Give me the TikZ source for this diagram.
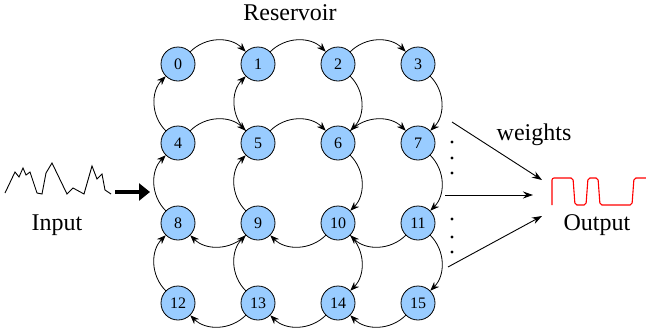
\documentclass[tikz,border=0pt]{standalone}
\usepackage{fontspec}
\setmainfont{Liberation Serif}
\usetikzlibrary{arrows.meta}
\definecolor{cellblue}{RGB}{153,204,255}
\definecolor{wavered}{RGB}{255,0,0}
\tikzset{
	neuron/.style={circle, draw, fill=cellblue, line width=0.8pt, minimum size=34pt, inner sep=0pt, font=\fontsize{16}{16}\selectfont},
	link/.style={-{Stealth[length=9pt,width=7pt]}, line width=0.8pt, bend left=45},
	readout/.style={-{Stealth[length=10pt,width=7pt]}, line width=0.9pt},
	txt/.style={anchor=base, font=\fontsize{24}{24}\selectfont}
}
\begin{document}
\begin{tikzpicture}[x=1pt,y=-1pt]
				\useasboundingbox (0,0) rectangle (646,330);
				\node[neuron] (n0) at (178,64) {0};
				\node[neuron] (n1) at (258,64) {1};
				\node[neuron] (n2) at (338,64) {2};
				\node[neuron] (n3) at (418,64) {3};
				\node[neuron] (n4) at (178,143) {4};
				\node[neuron] (n5) at (258,143) {5};
				\node[neuron] (n6) at (338,143) {6};
				\node[neuron] (n7) at (418,143) {7};
				\node[neuron] (n8) at (178,223) {8};
				\node[neuron] (n9) at (258,223) {9};
				\node[neuron] (n10) at (338,223) {10};
				\node[neuron] (n11) at (418,223) {11};
				\node[neuron] (n12) at (178,303) {12};
				\node[neuron] (n13) at (258,303) {13};
				\node[neuron] (n14) at (338,303) {14};
				\node[neuron] (n15) at (418,303) {15};
				\draw[link] (n0) to (n1);
				\draw[link] (n1) to (n2);
				\draw[link] (n2) to (n3);
				\draw[link] (n4) to (n5);
				\draw[link] (n5) to (n6);
				\draw[link] (n6) to (n7);
				\draw[link] (n11) to (n10);
				\draw[link] (n10) to (n9);
				\draw[link] (n9) to (n8);
				\draw[link] (n15) to (n14);
				\draw[link] (n14) to (n13);
				\draw[link] (n13) to (n12);
				\draw[link] (n4) to (n0);
				\draw[link] (n8) to (n4);
				\draw[link] (n12) to (n8);
				\draw[link] (n5) to (n1);
				\draw[link] (n9) to (n5);
				\draw[link] (n13) to (n9);
				\draw[link] (n2) to (n6);
				\draw[link] (n6) to (n10);
				\draw[link] (n10) to (n14);
				\draw[link] (n3) to (n7);
				\draw[link] (n7) to (n11);
				\draw[link] (n11) to (n15);
				\node[txt] (reservoir) at (290,20) {Reservoir};
				\node[txt] (input) at (57,230) {Input};
				\node[txt] (output) at (597,230) {Output};
				\node[txt] (weights) at (534,140) {weights};
				\draw[line width=0.9pt, line join=miter] (5,193) -- (15,172) -- (19,177) -- (23,168) -- (26,175) -- (30,172) -- (37,193) -- (42,194) -- (46,173) -- (52,163) -- (67,194) -- (73,188) -- (84,194) -- (92,166) -- (97,179) -- (102,174) -- (105,190) -- (111,194);
				\coordinate (feedA) at (115,192);
				\coordinate (feedB) at (150,192);
				\draw[line width=4.5pt, -{Triangle[length=11pt,width=17pt]}] (feedA) -- (feedB);
				\coordinate (r1) at (452,122);
				\coordinate (r2) at (445,195);
				\coordinate (r3) at (448,267);
				\coordinate (o1) at (542,180);
				\coordinate (o2) at (533,195);
				\coordinate (o3) at (542,216);
				\draw[readout] (r1) -- (o1);
				\draw[readout] (r2) -- (o2);
				\draw[readout] (r3) -- (o3);
				\fill (452,142) circle (1.6);
				\fill (452,158) circle (1.6);
				\fill (452,173) circle (1.6);
				\fill (452,219) circle (1.6);
				\fill (452,237) circle (1.6);
				\fill (452,252) circle (1.6);
				\draw[wavered, line width=1.1pt, rounded corners=2pt] (552,205) -- (552,178) -- (573,178) -- (575,205) -- (586,205) -- (588,178) -- (598,178) -- (600,205) -- (632,205) -- (634,178) -- (646,178);
			\end{tikzpicture}
\end{document}
